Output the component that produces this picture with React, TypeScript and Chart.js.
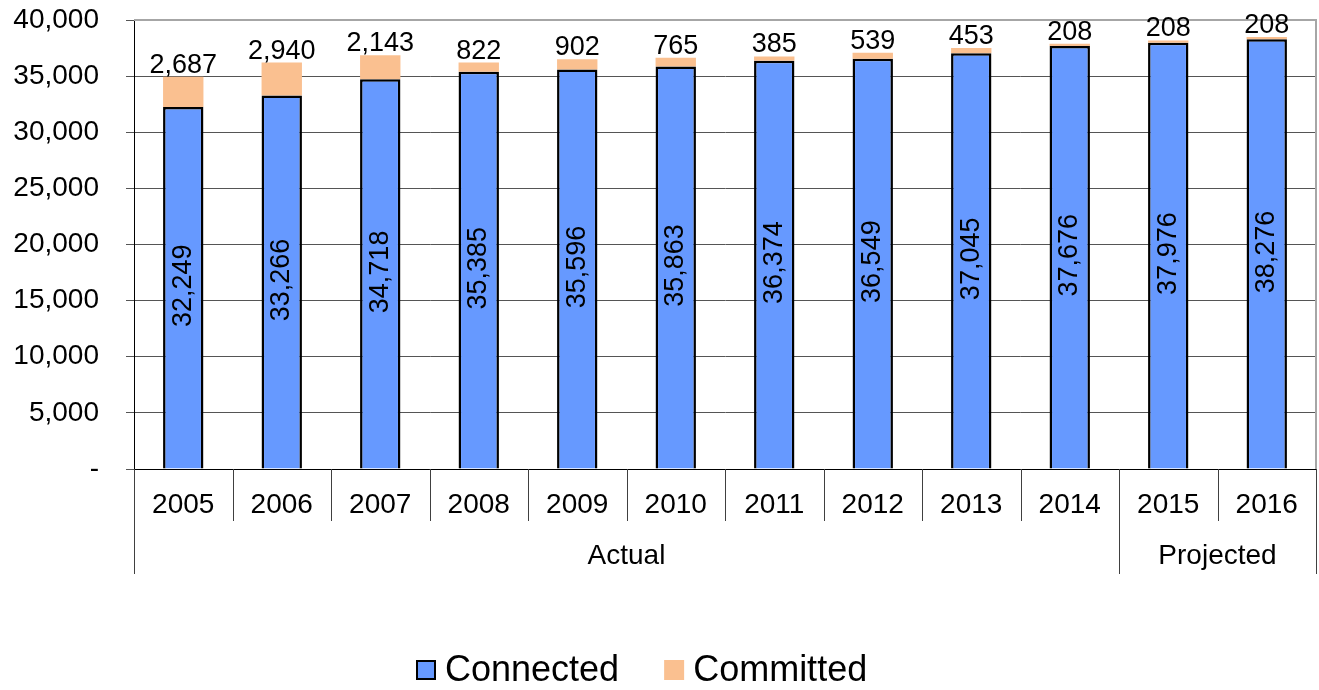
import React, { useEffect, useRef } from "react";
import { Chart, registerables } from "chart.js";

Chart.register(...registerables);

const years = ["2005", "2006", "2007", "2008", "2009", "2010", "2011", "2012", "2013", "2014", "2015", "2016"];
const connected = [32249, 33266, 34718, 35385, 35596, 35863, 36374, 36549, 37045, 37676, 37976, 38276];
const committed = [2687, 2940, 2143, 822, 902, 765, 385, 539, 453, 208, 208, 208];
// Category groups: label and number of years covered
const groupLabels = ["Actual", "Projected"];
const groupSizes = [10, 2];
const seriesNames = ["Connected", "Committed"];

const FONT = '"Liberation Sans", Arial, sans-serif';
const BLUE = "#6699FF";
const TAN = "#FAC090";

const fmt = (v: number) => v.toLocaleString("en-US");

const overlayPlugin = {
  id: "overlay",
  afterDraw(chart: any) {
    const { ctx, chartArea } = chart;
    const { left, right, top, bottom } = chartArea;
    const n = years.length;
    const catW = (right - left) / n;
    ctx.save();

    // plot area frame (top and right)
    ctx.strokeStyle = "#A6A6A6";
    ctx.lineWidth = 2;
    ctx.beginPath();
    ctx.moveTo(left, top);
    ctx.lineTo(right, top);
    ctx.lineTo(right, bottom);
    ctx.stroke();

    // axis base line
    ctx.strokeStyle = "#000";
    ctx.lineWidth = 1;
    ctx.beginPath();
    ctx.moveTo(left, Math.round(bottom) + 0.5);
    ctx.lineTo(right, Math.round(bottom) + 0.5);
    ctx.stroke();

    // category separators below the axis
    const groupEdges = new Set<number>([0]);
    let acc = 0;
    groupSizes.forEach((s) => {
      acc += s;
      groupEdges.add(acc);
    });
    ctx.strokeStyle = "#404040";
    ctx.lineWidth = 1;
    for (let i = 0; i <= n; i++) {
      const x = Math.round(left + i * catW) + 0.5;
      const len = groupEdges.has(i) ? 105 : 52;
      ctx.beginPath();
      ctx.moveTo(x, bottom);
      ctx.lineTo(x, bottom + len);
      ctx.stroke();
    }

    // year labels
    ctx.fillStyle = "#000";
    ctx.font = `28px ${FONT}`;
    ctx.textAlign = "center";
    ctx.textBaseline = "middle";
    years.forEach((y, i) => {
      ctx.fillText(y, left + (i + 0.5) * catW, bottom + 36);
    });

    // group labels
    let start = 0;
    groupLabels.forEach((g, gi) => {
      const end = start + groupSizes[gi];
      ctx.fillText(g, left + ((start + end) / 2) * catW, bottom + 87);
      start = end;
    });

    // value labels
    const m0 = chart.getDatasetMeta(0);
    const m1 = chart.getDatasetMeta(1);
    ctx.font = `27px ${FONT}`;
    m0.data.forEach((bar: any, i: number) => {
      const cy = (bar.y + bar.base) / 2 - 2;
      ctx.save();
      ctx.translate(bar.x, cy);
      ctx.rotate(-Math.PI / 2);
      ctx.textAlign = "center";
      ctx.textBaseline = "middle";
      ctx.fillText(fmt(connected[i]), 0, 0);
      ctx.restore();
    });
    m1.data.forEach((bar: any, i: number) => {
      ctx.textAlign = "center";
      ctx.textBaseline = "alphabetic";
      ctx.fillText(fmt(committed[i]), bar.x, bar.y - 4);
    });

    // legend
    ctx.font = `36px ${FONT}`;
    ctx.textAlign = "left";
    ctx.textBaseline = "middle";
    const ly = 670;
    let lx = 416;
    const swatches = [
      { fill: BLUE, stroke: "#000" },
      { fill: TAN, stroke: null as string | null },
    ];
    seriesNames.forEach((name, i) => {
      const sw = swatches[i];
      ctx.fillStyle = sw.fill;
      ctx.fillRect(lx, ly - 10, 20, 20);
      if (sw.stroke) {
        ctx.strokeStyle = sw.stroke;
        ctx.lineWidth = 2;
        ctx.strokeRect(lx + 1, ly - 9, 18, 18);
      }
      ctx.fillStyle = "#000";
      ctx.fillText(name, lx + 29, ly + 1);
      lx += 29 + ctx.measureText(name).width + 45;
    });

    ctx.restore();
  },
};

export default function App() {
  const ref = useRef<HTMLCanvasElement | null>(null);

  useEffect(() => {
    if (!ref.current) return;
    const chart = new Chart(ref.current, {
      type: "bar",
      data: {
        labels: years,
        datasets: [
          {
            label: seriesNames[0],
            data: connected,
            backgroundColor: BLUE,
            borderColor: "#000",
            borderWidth: 2.5,
            barPercentage: 0.41,
            categoryPercentage: 1,
          },
          {
            label: seriesNames[1],
            data: committed,
            backgroundColor: TAN,
            borderWidth: 0,
            barPercentage: 0.41,
            categoryPercentage: 1,
          },
        ],
      },
      options: {
        responsive: false,
        animation: false,
        layout: { padding: { left: 0, top: 20, right: 3, bottom: 221 } },
        plugins: {
          legend: { display: false },
          tooltip: { enabled: false },
        },
        scales: {
          x: { stacked: true, display: false },
          y: {
            stacked: true,
            min: 0,
            max: 40000,
            ticks: {
              stepSize: 5000,
              padding: 27,
              color: "#000",
              font: { family: FONT, size: 28 },
              callback: (v: any) => (Number(v) === 0 ? "-" : fmt(Number(v))),
            },
            grid: {
              color: "#555555",
              lineWidth: 1,
              tickLength: 8,
              drawTicks: true,
            },
            border: { display: true, color: "#000", width: 1 },
            afterFit: (scale: any) => {
              scale.width = 134;
              scale.paddingTop = 0;
              scale.paddingBottom = 0;
            },
          },
        },
      },
      plugins: [overlayPlugin],
    });
    return () => chart.destroy();
  }, []);

  return (
    <div style={{ position: "fixed", left: 0, top: 0, width: 1319, height: 690, background: "#fff" }}>
      <canvas ref={ref} width={1319} height={690} style={{ display: "block" }} />
    </div>
  );
}
